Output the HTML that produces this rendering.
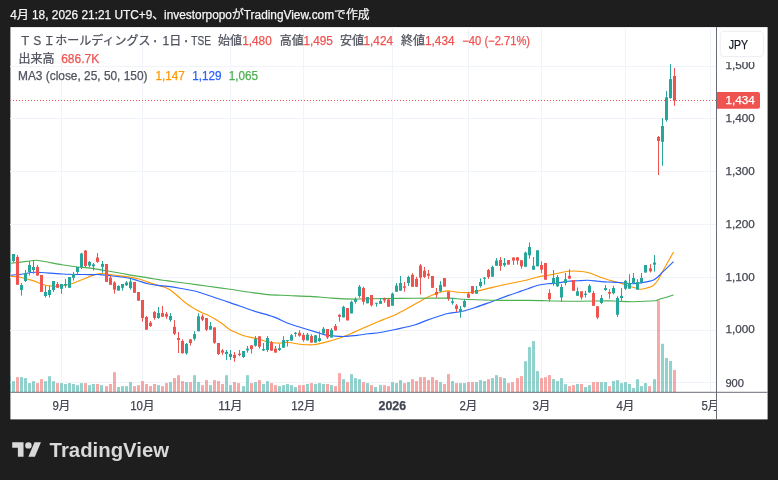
<!DOCTYPE html>
<html lang="ja"><head><meta charset="utf-8"><title>TradingView</title>
<style>
html,body{margin:0;padding:0;background:#1e1e1e;}
body{width:778px;height:480px;overflow:hidden;}
svg{display:block;will-change:transform;}
text{font-family:"Liberation Sans","Noto Sans CJK JP",sans-serif;stroke-width:0.25px;}
</style></head><body>
<svg width="778" height="480" viewBox="0 0 778 480">
<rect x="0" y="0" width="778" height="480" fill="#1e1e1e"/>
<rect x="10.4" y="27.1" width="757.2" height="392.3" fill="#ffffff"/>
<clipPath id="plot"><rect x="10.4" y="27.1" width="706.1" height="365.2"/></clipPath>

<g stroke="#f0f3fa" stroke-width="1" shape-rendering="crispEdges">
<line x1="61.5" y1="27.1" x2="61.5" y2="392.3"/>
<line x1="142.5" y1="27.1" x2="142.5" y2="392.3"/>
<line x1="230.5" y1="27.1" x2="230.5" y2="392.3"/>
<line x1="303.5" y1="27.1" x2="303.5" y2="392.3"/>
<line x1="392.5" y1="27.1" x2="392.5" y2="392.3"/>
<line x1="468.5" y1="27.1" x2="468.5" y2="392.3"/>
<line x1="541.5" y1="27.1" x2="541.5" y2="392.3"/>
<line x1="625.5" y1="27.1" x2="625.5" y2="392.3"/>
<line x1="710.5" y1="27.1" x2="710.5" y2="392.3"/>
<line x1="10.4" y1="66.1" x2="716.5" y2="66.1"/>
<line x1="10.4" y1="118.9" x2="716.5" y2="118.9"/>
<line x1="10.4" y1="171.7" x2="716.5" y2="171.7"/>
<line x1="10.4" y1="224.4" x2="716.5" y2="224.4"/>
<line x1="10.4" y1="277.2" x2="716.5" y2="277.2"/>
<line x1="10.4" y1="330.0" x2="716.5" y2="330.0"/>
<line x1="10.4" y1="382.8" x2="716.5" y2="382.8"/>
</g>
<g clip-path="url(#plot)">
<rect x="8.0" y="376.1" width="3" height="16.2" fill="rgba(38,166,154,0.5)"/>
<rect x="12.0" y="381.2" width="3" height="11.1" fill="rgba(38,166,154,0.5)"/>
<rect x="16.0" y="377.1" width="3" height="15.2" fill="rgba(239,83,80,0.5)"/>
<rect x="20.0" y="377.1" width="3" height="15.2" fill="rgba(38,166,154,0.5)"/>
<rect x="24.0" y="378.1" width="3" height="14.2" fill="rgba(38,166,154,0.5)"/>
<rect x="28.0" y="383.1" width="3" height="9.2" fill="rgba(38,166,154,0.5)"/>
<rect x="32.0" y="381.2" width="3" height="11.1" fill="rgba(38,166,154,0.5)"/>
<rect x="36.0" y="383.1" width="3" height="9.2" fill="rgba(239,83,80,0.5)"/>
<rect x="40.0" y="379.2" width="3" height="13.1" fill="rgba(239,83,80,0.5)"/>
<rect x="44.0" y="381.2" width="3" height="11.1" fill="rgba(38,166,154,0.5)"/>
<rect x="48.0" y="376.2" width="3" height="16.1" fill="rgba(38,166,154,0.5)"/>
<rect x="52.0" y="381.2" width="3" height="11.1" fill="rgba(38,166,154,0.5)"/>
<rect x="56.0" y="383.1" width="3" height="9.2" fill="rgba(239,83,80,0.5)"/>
<rect x="60.0" y="383.1" width="3" height="9.2" fill="rgba(38,166,154,0.5)"/>
<rect x="64.0" y="384.0" width="3" height="8.3" fill="rgba(38,166,154,0.5)"/>
<rect x="68.0" y="383.1" width="3" height="9.2" fill="rgba(38,166,154,0.5)"/>
<rect x="72.0" y="384.0" width="3" height="8.3" fill="rgba(38,166,154,0.5)"/>
<rect x="76.0" y="385.1" width="3" height="7.2" fill="rgba(38,166,154,0.5)"/>
<rect x="80.0" y="383.1" width="3" height="9.2" fill="rgba(38,166,154,0.5)"/>
<rect x="84.0" y="383.1" width="3" height="9.2" fill="rgba(239,83,80,0.5)"/>
<rect x="88.0" y="385.1" width="3" height="7.2" fill="rgba(38,166,154,0.5)"/>
<rect x="92.0" y="384.0" width="3" height="8.3" fill="rgba(38,166,154,0.5)"/>
<rect x="96.0" y="384.0" width="3" height="8.3" fill="rgba(239,83,80,0.5)"/>
<rect x="100.0" y="385.1" width="3" height="7.2" fill="rgba(38,166,154,0.5)"/>
<rect x="105.0" y="386.1" width="3" height="6.2" fill="rgba(239,83,80,0.5)"/>
<rect x="109.0" y="384.0" width="3" height="8.3" fill="rgba(239,83,80,0.5)"/>
<rect x="113.0" y="372.2" width="3" height="20.1" fill="rgba(239,83,80,0.5)"/>
<rect x="117.0" y="387.0" width="3" height="5.3" fill="rgba(38,166,154,0.5)"/>
<rect x="121.0" y="386.1" width="3" height="6.2" fill="rgba(38,166,154,0.5)"/>
<rect x="125.0" y="386.1" width="3" height="6.2" fill="rgba(38,166,154,0.5)"/>
<rect x="129.0" y="382.1" width="3" height="10.2" fill="rgba(38,166,154,0.5)"/>
<rect x="133.0" y="386.1" width="3" height="6.2" fill="rgba(239,83,80,0.5)"/>
<rect x="137.0" y="385.1" width="3" height="7.2" fill="rgba(239,83,80,0.5)"/>
<rect x="141.0" y="381.1" width="3" height="11.2" fill="rgba(239,83,80,0.5)"/>
<rect x="145.0" y="384.0" width="3" height="8.3" fill="rgba(239,83,80,0.5)"/>
<rect x="149.0" y="386.1" width="3" height="6.2" fill="rgba(239,83,80,0.5)"/>
<rect x="153.0" y="384.0" width="3" height="8.3" fill="rgba(239,83,80,0.5)"/>
<rect x="157.0" y="385.1" width="3" height="7.2" fill="rgba(38,166,154,0.5)"/>
<rect x="161.0" y="386.1" width="3" height="6.2" fill="rgba(239,83,80,0.5)"/>
<rect x="165.0" y="383.1" width="3" height="9.2" fill="rgba(239,83,80,0.5)"/>
<rect x="169.0" y="382.1" width="3" height="10.2" fill="rgba(38,166,154,0.5)"/>
<rect x="173.0" y="378.1" width="3" height="14.2" fill="rgba(239,83,80,0.5)"/>
<rect x="177.0" y="375.2" width="3" height="17.1" fill="rgba(239,83,80,0.5)"/>
<rect x="181.0" y="381.1" width="3" height="11.2" fill="rgba(239,83,80,0.5)"/>
<rect x="185.0" y="382.1" width="3" height="10.2" fill="rgba(38,166,154,0.5)"/>
<rect x="189.0" y="382.1" width="3" height="10.2" fill="rgba(239,83,80,0.5)"/>
<rect x="193.0" y="375.2" width="3" height="17.1" fill="rgba(38,166,154,0.5)"/>
<rect x="197.0" y="382.1" width="3" height="10.2" fill="rgba(38,166,154,0.5)"/>
<rect x="201.0" y="385.1" width="3" height="7.2" fill="rgba(239,83,80,0.5)"/>
<rect x="205.0" y="380.1" width="3" height="12.2" fill="rgba(239,83,80,0.5)"/>
<rect x="209.0" y="385.1" width="3" height="7.2" fill="rgba(38,166,154,0.5)"/>
<rect x="213.0" y="380.1" width="3" height="12.2" fill="rgba(239,83,80,0.5)"/>
<rect x="217.0" y="381.1" width="3" height="11.2" fill="rgba(239,83,80,0.5)"/>
<rect x="221.0" y="384.0" width="3" height="8.3" fill="rgba(239,83,80,0.5)"/>
<rect x="225.0" y="375.2" width="3" height="17.1" fill="rgba(38,166,154,0.5)"/>
<rect x="229.0" y="385.1" width="3" height="7.2" fill="rgba(38,166,154,0.5)"/>
<rect x="233.0" y="382.1" width="3" height="10.2" fill="rgba(239,83,80,0.5)"/>
<rect x="237.0" y="383.1" width="3" height="9.2" fill="rgba(239,83,80,0.5)"/>
<rect x="242.0" y="386.1" width="3" height="6.2" fill="rgba(38,166,154,0.5)"/>
<rect x="246.0" y="375.2" width="3" height="17.1" fill="rgba(38,166,154,0.5)"/>
<rect x="250.0" y="383.1" width="3" height="9.2" fill="rgba(239,83,80,0.5)"/>
<rect x="254.0" y="382.1" width="3" height="10.2" fill="rgba(38,166,154,0.5)"/>
<rect x="258.0" y="380.1" width="3" height="12.2" fill="rgba(239,83,80,0.5)"/>
<rect x="262.0" y="384.0" width="3" height="8.3" fill="rgba(38,166,154,0.5)"/>
<rect x="266.0" y="381.1" width="3" height="11.2" fill="rgba(38,166,154,0.5)"/>
<rect x="270.0" y="383.1" width="3" height="9.2" fill="rgba(239,83,80,0.5)"/>
<rect x="274.0" y="385.1" width="3" height="7.2" fill="rgba(239,83,80,0.5)"/>
<rect x="278.0" y="386.1" width="3" height="6.2" fill="rgba(38,166,154,0.5)"/>
<rect x="282.0" y="385.1" width="3" height="7.2" fill="rgba(38,166,154,0.5)"/>
<rect x="286.0" y="384.0" width="3" height="8.3" fill="rgba(38,166,154,0.5)"/>
<rect x="290.0" y="385.1" width="3" height="7.2" fill="rgba(38,166,154,0.5)"/>
<rect x="294.0" y="387.0" width="3" height="5.3" fill="rgba(38,166,154,0.5)"/>
<rect x="298.0" y="385.1" width="3" height="7.2" fill="rgba(239,83,80,0.5)"/>
<rect x="302.0" y="385.1" width="3" height="7.2" fill="rgba(239,83,80,0.5)"/>
<rect x="306.0" y="384.0" width="3" height="8.3" fill="rgba(38,166,154,0.5)"/>
<rect x="310.0" y="383.1" width="3" height="9.2" fill="rgba(239,83,80,0.5)"/>
<rect x="314.0" y="384.0" width="3" height="8.3" fill="rgba(38,166,154,0.5)"/>
<rect x="318.0" y="383.1" width="3" height="9.2" fill="rgba(38,166,154,0.5)"/>
<rect x="322.0" y="384.0" width="3" height="8.3" fill="rgba(38,166,154,0.5)"/>
<rect x="326.0" y="384.0" width="3" height="8.3" fill="rgba(239,83,80,0.5)"/>
<rect x="330.0" y="385.1" width="3" height="7.2" fill="rgba(38,166,154,0.5)"/>
<rect x="334.0" y="386.1" width="3" height="6.2" fill="rgba(239,83,80,0.5)"/>
<rect x="338.0" y="373.1" width="3" height="19.2" fill="rgba(239,83,80,0.5)"/>
<rect x="342.0" y="379.2" width="3" height="13.1" fill="rgba(38,166,154,0.5)"/>
<rect x="346.0" y="382.1" width="3" height="10.2" fill="rgba(239,83,80,0.5)"/>
<rect x="350.0" y="374.1" width="3" height="18.2" fill="rgba(38,166,154,0.5)"/>
<rect x="354.0" y="378.1" width="3" height="14.2" fill="rgba(38,166,154,0.5)"/>
<rect x="358.0" y="379.2" width="3" height="13.1" fill="rgba(38,166,154,0.5)"/>
<rect x="362.0" y="382.1" width="3" height="10.2" fill="rgba(239,83,80,0.5)"/>
<rect x="366.0" y="383.1" width="3" height="9.2" fill="rgba(38,166,154,0.5)"/>
<rect x="370.0" y="385.1" width="3" height="7.2" fill="rgba(239,83,80,0.5)"/>
<rect x="374.0" y="387.0" width="3" height="5.3" fill="rgba(38,166,154,0.5)"/>
<rect x="379.0" y="385.1" width="3" height="7.2" fill="rgba(38,166,154,0.5)"/>
<rect x="383.0" y="385.1" width="3" height="7.2" fill="rgba(239,83,80,0.5)"/>
<rect x="387.0" y="386.1" width="3" height="6.2" fill="rgba(239,83,80,0.5)"/>
<rect x="391.0" y="382.1" width="3" height="10.2" fill="rgba(38,166,154,0.5)"/>
<rect x="395.0" y="383.1" width="3" height="9.2" fill="rgba(38,166,154,0.5)"/>
<rect x="399.0" y="380.1" width="3" height="12.2" fill="rgba(38,166,154,0.5)"/>
<rect x="403.0" y="383.1" width="3" height="9.2" fill="rgba(239,83,80,0.5)"/>
<rect x="407.0" y="382.1" width="3" height="10.2" fill="rgba(38,166,154,0.5)"/>
<rect x="411.0" y="379.2" width="3" height="13.1" fill="rgba(239,83,80,0.5)"/>
<rect x="415.0" y="381.1" width="3" height="11.2" fill="rgba(239,83,80,0.5)"/>
<rect x="419.0" y="377.1" width="3" height="15.2" fill="rgba(239,83,80,0.5)"/>
<rect x="423.0" y="377.1" width="3" height="15.2" fill="rgba(239,83,80,0.5)"/>
<rect x="427.0" y="380.1" width="3" height="12.2" fill="rgba(239,83,80,0.5)"/>
<rect x="431.0" y="377.1" width="3" height="15.2" fill="rgba(239,83,80,0.5)"/>
<rect x="435.0" y="380.1" width="3" height="12.2" fill="rgba(239,83,80,0.5)"/>
<rect x="439.0" y="382.1" width="3" height="10.2" fill="rgba(38,166,154,0.5)"/>
<rect x="443.0" y="384.0" width="3" height="8.3" fill="rgba(239,83,80,0.5)"/>
<rect x="447.0" y="374.1" width="3" height="18.2" fill="rgba(239,83,80,0.5)"/>
<rect x="451.0" y="381.1" width="3" height="11.2" fill="rgba(38,166,154,0.5)"/>
<rect x="455.0" y="383.1" width="3" height="9.2" fill="rgba(239,83,80,0.5)"/>
<rect x="459.0" y="383.1" width="3" height="9.2" fill="rgba(38,166,154,0.5)"/>
<rect x="463.0" y="383.1" width="3" height="9.2" fill="rgba(38,166,154,0.5)"/>
<rect x="467.0" y="382.1" width="3" height="10.2" fill="rgba(239,83,80,0.5)"/>
<rect x="471.0" y="382.1" width="3" height="10.2" fill="rgba(239,83,80,0.5)"/>
<rect x="475.0" y="382.1" width="3" height="10.2" fill="rgba(38,166,154,0.5)"/>
<rect x="479.0" y="380.1" width="3" height="12.2" fill="rgba(38,166,154,0.5)"/>
<rect x="483.0" y="381.1" width="3" height="11.2" fill="rgba(38,166,154,0.5)"/>
<rect x="487.0" y="379.2" width="3" height="13.1" fill="rgba(239,83,80,0.5)"/>
<rect x="491.0" y="378.1" width="3" height="14.2" fill="rgba(38,166,154,0.5)"/>
<rect x="495.0" y="375.2" width="3" height="17.1" fill="rgba(38,166,154,0.5)"/>
<rect x="499.0" y="377.1" width="3" height="15.2" fill="rgba(239,83,80,0.5)"/>
<rect x="503.0" y="378.1" width="3" height="14.2" fill="rgba(38,166,154,0.5)"/>
<rect x="507.0" y="383.1" width="3" height="9.2" fill="rgba(239,83,80,0.5)"/>
<rect x="511.0" y="382.2" width="3" height="10.1" fill="rgba(239,83,80,0.5)"/>
<rect x="516.0" y="378.1" width="3" height="14.2" fill="rgba(239,83,80,0.5)"/>
<rect x="520.0" y="376.1" width="3" height="16.2" fill="rgba(239,83,80,0.5)"/>
<rect x="524.0" y="361.2" width="3" height="31.1" fill="rgba(38,166,154,0.5)"/>
<rect x="528.0" y="347.1" width="3" height="45.2" fill="rgba(38,166,154,0.5)"/>
<rect x="532.0" y="341.1" width="3" height="51.2" fill="rgba(38,166,154,0.5)"/>
<rect x="536.0" y="371.1" width="3" height="21.2" fill="rgba(38,166,154,0.5)"/>
<rect x="540.0" y="378.1" width="3" height="14.2" fill="rgba(239,83,80,0.5)"/>
<rect x="544.0" y="377.2" width="3" height="15.1" fill="rgba(239,83,80,0.5)"/>
<rect x="548.0" y="375.1" width="3" height="17.2" fill="rgba(239,83,80,0.5)"/>
<rect x="552.0" y="379.0" width="3" height="13.3" fill="rgba(38,166,154,0.5)"/>
<rect x="556.0" y="381.1" width="3" height="11.2" fill="rgba(38,166,154,0.5)"/>
<rect x="560.0" y="378.1" width="3" height="14.2" fill="rgba(38,166,154,0.5)"/>
<rect x="564.0" y="384.2" width="3" height="8.1" fill="rgba(38,166,154,0.5)"/>
<rect x="568.0" y="386.1" width="3" height="6.2" fill="rgba(239,83,80,0.5)"/>
<rect x="572.0" y="385.1" width="3" height="7.2" fill="rgba(239,83,80,0.5)"/>
<rect x="576.0" y="384.0" width="3" height="8.3" fill="rgba(38,166,154,0.5)"/>
<rect x="580.0" y="384.0" width="3" height="8.3" fill="rgba(239,83,80,0.5)"/>
<rect x="584.0" y="387.0" width="3" height="5.3" fill="rgba(38,166,154,0.5)"/>
<rect x="588.0" y="385.1" width="3" height="7.2" fill="rgba(38,166,154,0.5)"/>
<rect x="592.0" y="382.1" width="3" height="10.2" fill="rgba(239,83,80,0.5)"/>
<rect x="596.0" y="382.1" width="3" height="10.2" fill="rgba(239,83,80,0.5)"/>
<rect x="600.0" y="382.1" width="3" height="10.2" fill="rgba(38,166,154,0.5)"/>
<rect x="604.0" y="382.1" width="3" height="10.2" fill="rgba(38,166,154,0.5)"/>
<rect x="608.0" y="386.1" width="3" height="6.2" fill="rgba(239,83,80,0.5)"/>
<rect x="612.0" y="381.1" width="3" height="11.2" fill="rgba(38,166,154,0.5)"/>
<rect x="616.0" y="380.1" width="3" height="12.2" fill="rgba(38,166,154,0.5)"/>
<rect x="620.0" y="383.1" width="3" height="9.2" fill="rgba(38,166,154,0.5)"/>
<rect x="624.0" y="382.1" width="3" height="10.2" fill="rgba(38,166,154,0.5)"/>
<rect x="628.0" y="384.0" width="3" height="8.3" fill="rgba(38,166,154,0.5)"/>
<rect x="632.0" y="388.0" width="3" height="4.3" fill="rgba(38,166,154,0.5)"/>
<rect x="636.0" y="379.2" width="3" height="13.1" fill="rgba(38,166,154,0.5)"/>
<rect x="640.0" y="386.1" width="3" height="6.2" fill="rgba(38,166,154,0.5)"/>
<rect x="644.0" y="383.1" width="3" height="9.2" fill="rgba(38,166,154,0.5)"/>
<rect x="648.0" y="386.1" width="3" height="6.2" fill="rgba(239,83,80,0.5)"/>
<rect x="653.0" y="379.2" width="3" height="13.1" fill="rgba(38,166,154,0.5)"/>
<rect x="657.0" y="300.3" width="3" height="92.0" fill="rgba(239,83,80,0.5)"/>
<rect x="661.0" y="343.8" width="3" height="48.5" fill="rgba(38,166,154,0.5)"/>
<rect x="665.0" y="358.0" width="3" height="34.3" fill="rgba(38,166,154,0.5)"/>
<rect x="669.0" y="361.0" width="3" height="31.3" fill="rgba(38,166,154,0.5)"/>
<rect x="673.0" y="370.0" width="3" height="22.3" fill="rgba(239,83,80,0.5)"/>
<path d="M10.5,276.2 C12.2,276.4 16.8,276.5 20.5,277.2 C24.2,278.0 28.8,279.3 33.0,280.6 C37.2,281.9 41.3,284.3 45.5,285.2 C49.7,286.2 53.8,286.5 58.0,286.2 C62.2,286.0 67.2,284.8 70.5,284.0 C73.8,283.2 75.1,282.4 78.0,281.2 C80.9,280.1 85.1,278.4 88.0,277.2 C90.9,276.1 93.2,275.0 95.5,274.4 C97.8,273.8 98.8,273.4 101.8,273.5 C104.7,273.6 108.6,274.4 113.0,275.0 C117.4,275.6 123.8,276.3 128.0,276.9 C132.2,277.5 134.7,277.8 138.0,278.7 C141.3,279.6 144.7,281.0 148.0,282.1 C151.3,283.2 155.2,284.5 158.0,285.4 C160.8,286.2 162.5,286.3 164.7,287.2 C166.9,288.1 168.8,289.0 171.0,290.5 C173.2,292.0 175.7,294.4 178.0,296.3 C180.3,298.2 181.9,300.1 184.7,302.2 C187.5,304.3 192.0,307.1 194.7,308.8 C197.4,310.5 198.8,311.1 201.0,312.2 C203.2,313.3 205.7,314.1 208.0,315.2 C210.3,316.3 212.6,317.5 215.0,319.0 C217.4,320.5 220.1,322.2 222.6,324.0 C225.1,325.8 227.6,328.2 230.0,329.7 C232.4,331.2 234.7,332.0 237.0,333.0 C239.3,334.0 241.6,335.0 244.0,335.8 C246.4,336.6 249.2,337.1 251.7,337.6 C254.2,338.1 256.6,338.4 259.0,339.0 C261.4,339.6 263.6,340.8 266.0,341.4 C268.4,342.0 271.1,342.5 273.6,342.8 C276.1,343.1 278.6,343.1 281.0,343.0 C283.4,342.9 284.4,342.2 288.0,342.5 C291.6,342.8 298.5,344.1 302.6,344.5 C306.7,344.9 309.2,345.1 312.8,344.8 C316.4,344.5 319.6,343.7 324.0,342.6 C328.4,341.5 334.1,339.9 339.0,338.2 C343.9,336.5 348.8,334.4 353.6,332.4 C358.4,330.4 363.2,328.1 368.0,326.0 C372.8,323.9 377.8,321.9 382.6,319.9 C387.4,317.9 392.1,316.3 397.0,314.0 C401.9,311.7 406.9,308.7 411.7,306.0 C416.5,303.3 422.4,299.9 426.0,298.0 C429.6,296.1 431.1,295.6 433.6,294.6 C436.1,293.6 438.6,292.6 441.0,292.0 C443.4,291.4 445.2,290.8 448.0,290.8 C450.8,290.9 454.7,292.0 458.0,292.3 C461.3,292.6 464.8,292.8 468.0,292.6 C471.2,292.4 473.1,291.9 477.0,291.1 C480.9,290.3 486.9,288.7 491.7,287.6 C496.5,286.5 501.1,285.4 506.0,284.3 C510.9,283.2 517.3,282.1 521.0,281.3 C524.7,280.6 525.2,280.5 528.0,279.8 C530.8,279.1 534.7,277.8 538.0,277.0 C541.3,276.2 544.7,275.9 548.0,275.3 C551.3,274.7 554.7,274.0 558.0,273.3 C561.3,272.6 564.7,271.7 568.0,271.3 C571.3,270.9 574.7,271.0 578.0,271.2 C581.3,271.4 584.7,271.6 588.0,272.5 C591.3,273.4 595.2,275.2 598.0,276.3 C600.8,277.4 603.0,278.1 605.0,278.8 C607.0,279.5 607.5,279.6 610.0,280.3 C612.5,281.0 616.7,282.0 620.0,283.0 C623.3,284.0 626.7,285.3 630.0,286.3 C633.3,287.3 637.2,288.9 640.0,289.2 C642.8,289.5 644.5,288.6 646.7,288.0 C648.9,287.4 651.1,287.1 653.0,285.8 C654.9,284.5 656.3,282.5 658.0,280.0 C659.7,277.5 660.4,275.5 663.0,270.8 C665.6,266.1 671.8,255.1 673.5,252.0" fill="none" stroke="#ff9800" stroke-width="1.15" stroke-linejoin="round"/>
<path d="M10.5,275.2 C12.6,275.0 18.8,274.5 23.0,274.0 C27.2,273.5 29.0,272.2 35.5,272.2 C42.0,272.2 53.2,273.6 62.0,274.0 C70.8,274.4 81.7,274.5 88.0,274.6 C94.3,274.7 95.8,274.4 100.0,274.6 C104.2,274.8 108.3,275.4 113.0,276.0 C117.7,276.6 123.8,277.2 128.0,278.0 C132.2,278.8 134.7,279.7 138.0,280.7 C141.3,281.7 144.7,283.0 148.0,283.8 C151.3,284.6 154.7,285.0 158.0,285.4 C161.3,285.8 164.2,285.9 168.0,286.4 C171.8,286.9 176.6,287.7 181.0,288.5 C185.4,289.3 190.2,289.9 194.7,291.0 C199.2,292.1 202.1,293.3 208.0,295.2 C213.9,297.1 222.7,300.1 230.0,302.6 C237.3,305.1 244.4,307.9 251.7,310.3 C259.0,312.7 267.6,314.7 273.6,316.9 C279.7,319.1 283.2,321.4 288.0,323.3 C292.8,325.2 297.8,326.5 302.6,328.0 C307.4,329.5 313.4,331.3 317.0,332.4 C320.6,333.5 321.6,334.0 324.0,334.6 C326.4,335.2 329.2,335.5 331.7,335.8 C334.2,336.1 336.6,336.3 339.0,336.4 C341.4,336.5 343.0,336.6 346.0,336.4 C349.0,336.2 353.3,335.8 357.0,335.4 C360.7,335.0 364.2,334.3 368.0,333.8 C371.8,333.3 375.5,333.2 380.0,332.5 C384.5,331.8 389.2,330.8 395.0,329.5 C400.8,328.2 409.4,326.5 414.6,325.0 C419.8,323.5 421.6,322.2 426.0,320.6 C430.4,319.0 437.3,316.7 441.0,315.5 C444.7,314.3 444.4,314.2 448.0,313.5 C451.6,312.8 457.8,312.3 462.6,311.2 C467.4,310.1 472.1,308.5 477.0,306.9 C481.9,305.3 486.9,303.4 491.7,301.7 C496.5,299.9 501.1,298.2 506.0,296.4 C510.9,294.6 517.3,292.4 521.0,291.1 C524.7,289.8 525.2,289.7 528.0,288.7 C530.8,287.7 534.7,286.1 538.0,285.3 C541.3,284.5 544.7,284.1 548.0,283.7 C551.3,283.3 554.7,283.4 558.0,283.0 C561.3,282.6 564.7,281.7 568.0,281.3 C571.3,280.9 574.7,281.0 578.0,280.8 C581.3,280.6 584.7,280.2 588.0,280.3 C591.3,280.4 594.7,280.9 598.0,281.2 C601.3,281.5 604.3,281.8 608.0,282.0 C611.7,282.2 615.8,282.2 620.0,282.5 C624.2,282.8 629.2,283.7 633.0,283.7 C636.8,283.7 639.7,283.1 643.0,282.5 C646.3,281.9 650.5,281.3 653.0,280.3 C655.5,279.3 656.3,278.1 658.0,276.7 C659.7,275.3 660.4,274.2 663.0,271.7 C665.6,269.2 671.8,263.4 673.5,261.7" fill="none" stroke="#2962ff" stroke-width="1.15" stroke-linejoin="round"/>
<path d="M10.5,263.2 C13.8,262.8 25.7,261.5 30.0,261.0 C34.3,260.5 34.3,260.2 36.5,260.3 C38.7,260.4 38.8,260.6 43.0,261.3 C47.2,262.0 56.2,263.8 62.0,264.8 C67.8,265.7 73.7,266.5 78.0,267.0 C82.3,267.5 83.0,267.2 88.0,267.9 C93.0,268.6 101.3,269.9 108.0,271.0 C114.7,272.1 121.3,273.5 128.0,274.6 C134.7,275.8 141.3,276.8 148.0,277.9 C154.7,278.9 161.3,280.0 168.0,280.9 C174.7,281.8 181.3,282.6 188.0,283.5 C194.7,284.4 201.3,285.4 208.0,286.3 C214.7,287.2 221.3,288.1 228.0,289.0 C234.7,289.9 241.3,291.1 248.0,292.0 C254.7,292.9 261.3,294.0 268.0,294.6 C274.7,295.2 281.0,295.2 288.0,295.5 C295.0,295.8 302.7,296.0 310.0,296.4 C317.3,296.8 324.7,297.7 332.0,298.1 C339.3,298.6 347.6,299.0 353.6,299.1 C359.6,299.2 360.3,298.9 368.0,298.8 C375.7,298.7 386.7,298.5 400.0,298.4 C413.3,298.3 437.6,298.0 448.0,298.1 C458.4,298.2 455.3,298.9 462.6,299.3 C469.9,299.7 480.8,300.1 491.7,300.3 C502.6,300.5 515.3,300.2 528.0,300.4 C540.7,300.5 554.7,301.1 568.0,301.2 C581.3,301.3 599.9,300.8 608.0,300.8 C616.1,300.8 612.5,301.1 616.7,301.2 C620.9,301.3 626.6,301.8 633.0,301.7 C639.4,301.6 650.8,301.1 655.0,300.8 C659.2,300.5 654.9,300.7 658.0,299.7 C661.1,298.7 670.9,295.8 673.5,295.0" fill="none" stroke="#4caf50" stroke-width="1.15" stroke-linejoin="round"/>
<rect x="9.0" y="259.0" width="1" height="13.5" fill="#26a69a"/>
<rect x="8.0" y="259.0" width="3" height="13.5" fill="#26a69a"/>
<rect x="13.0" y="254.0" width="1" height="8.5" fill="#26a69a"/>
<rect x="12.0" y="254.0" width="3" height="7.0" fill="#26a69a"/>
<rect x="17.0" y="255.0" width="1" height="29.8" fill="#ef5350"/>
<rect x="16.0" y="256.9" width="3" height="27.9" fill="#ef5350"/>
<rect x="21.0" y="283.0" width="1" height="12.6" fill="#26a69a"/>
<rect x="20.0" y="285.0" width="3" height="5.0" fill="#26a69a"/>
<rect x="25.0" y="270.0" width="1" height="12.0" fill="#26a69a"/>
<rect x="24.0" y="273.0" width="3" height="8.0" fill="#26a69a"/>
<rect x="29.0" y="261.0" width="1" height="14.6" fill="#26a69a"/>
<rect x="28.0" y="265.0" width="3" height="7.0" fill="#26a69a"/>
<rect x="33.0" y="260.0" width="1" height="13.8" fill="#26a69a"/>
<rect x="32.0" y="267.0" width="3" height="3.0" fill="#26a69a"/>
<rect x="37.0" y="265.0" width="1" height="10.6" fill="#ef5350"/>
<rect x="36.0" y="266.9" width="3" height="8.7" fill="#ef5350"/>
<rect x="41.0" y="275.0" width="1" height="16.9" fill="#ef5350"/>
<rect x="40.0" y="275.0" width="3" height="16.9" fill="#ef5350"/>
<rect x="45.0" y="285.6" width="1" height="11.9" fill="#26a69a"/>
<rect x="44.0" y="292.0" width="3" height="4.0" fill="#26a69a"/>
<rect x="49.0" y="285.6" width="1" height="11.9" fill="#26a69a"/>
<rect x="48.0" y="290.0" width="3" height="5.0" fill="#26a69a"/>
<rect x="53.0" y="281.0" width="1" height="11.0" fill="#26a69a"/>
<rect x="52.0" y="281.0" width="3" height="9.0" fill="#26a69a"/>
<rect x="57.0" y="282.0" width="1" height="5.8" fill="#ef5350"/>
<rect x="56.0" y="284.0" width="3" height="3.8" fill="#ef5350"/>
<rect x="61.0" y="284.0" width="1" height="9.8" fill="#26a69a"/>
<rect x="60.0" y="284.0" width="3" height="4.8" fill="#26a69a"/>
<rect x="65.0" y="279.0" width="1" height="8.8" fill="#26a69a"/>
<rect x="64.0" y="284.0" width="3" height="1.6" fill="#26a69a"/>
<rect x="69.0" y="277.0" width="1" height="10.8" fill="#26a69a"/>
<rect x="68.0" y="277.0" width="3" height="10.8" fill="#26a69a"/>
<rect x="73.0" y="272.0" width="1" height="8.6" fill="#26a69a"/>
<rect x="72.0" y="274.0" width="3" height="3.8" fill="#26a69a"/>
<rect x="77.0" y="267.0" width="1" height="7.0" fill="#26a69a"/>
<rect x="76.0" y="267.0" width="3" height="5.0" fill="#26a69a"/>
<rect x="81.0" y="252.8" width="1" height="16.2" fill="#26a69a"/>
<rect x="80.0" y="253.5" width="3" height="13.5" fill="#26a69a"/>
<rect x="85.0" y="250.0" width="1" height="17.5" fill="#ef5350"/>
<rect x="84.0" y="250.6" width="3" height="15.4" fill="#ef5350"/>
<rect x="89.0" y="261.0" width="1" height="6.5" fill="#26a69a"/>
<rect x="88.0" y="261.9" width="3" height="3.7" fill="#26a69a"/>
<rect x="93.0" y="263.0" width="1" height="7.6" fill="#26a69a"/>
<rect x="92.0" y="264.4" width="3" height="1.9" fill="#26a69a"/>
<rect x="97.0" y="253.0" width="1" height="9.8" fill="#ef5350"/>
<rect x="96.0" y="257.5" width="3" height="4.4" fill="#ef5350"/>
<rect x="102.0" y="261.0" width="1" height="11.8" fill="#26a69a"/>
<rect x="101.0" y="264.0" width="3" height="2.9" fill="#26a69a"/>
<rect x="106.0" y="264.0" width="1" height="17.9" fill="#ef5350"/>
<rect x="105.0" y="264.0" width="3" height="17.9" fill="#ef5350"/>
<rect x="110.0" y="276.0" width="1" height="8.8" fill="#ef5350"/>
<rect x="109.0" y="277.8" width="3" height="7.0" fill="#ef5350"/>
<rect x="114.0" y="281.2" width="1" height="12.5" fill="#ef5350"/>
<rect x="113.0" y="282.5" width="3" height="7.2" fill="#ef5350"/>
<rect x="118.0" y="285.2" width="1" height="5.4" fill="#26a69a"/>
<rect x="117.0" y="286.0" width="3" height="4.6" fill="#26a69a"/>
<rect x="122.0" y="284.0" width="1" height="6.6" fill="#26a69a"/>
<rect x="121.0" y="284.0" width="3" height="3.8" fill="#26a69a"/>
<rect x="126.0" y="281.2" width="1" height="4.8" fill="#26a69a"/>
<rect x="125.0" y="282.5" width="3" height="2.8" fill="#26a69a"/>
<rect x="130.0" y="278.5" width="1" height="11.2" fill="#26a69a"/>
<rect x="129.0" y="281.6" width="3" height="6.4" fill="#26a69a"/>
<rect x="134.0" y="282.0" width="1" height="10.8" fill="#ef5350"/>
<rect x="133.0" y="282.0" width="3" height="10.8" fill="#ef5350"/>
<rect x="138.0" y="292.0" width="1" height="8.7" fill="#ef5350"/>
<rect x="137.0" y="292.0" width="3" height="8.7" fill="#ef5350"/>
<rect x="142.0" y="300.0" width="1" height="21.7" fill="#ef5350"/>
<rect x="141.0" y="300.0" width="3" height="18.0" fill="#ef5350"/>
<rect x="146.0" y="316.0" width="1" height="13.7" fill="#ef5350"/>
<rect x="145.0" y="317.0" width="3" height="12.7" fill="#ef5350"/>
<rect x="150.0" y="321.0" width="1" height="6.0" fill="#ef5350"/>
<rect x="149.0" y="322.7" width="3" height="3.3" fill="#ef5350"/>
<rect x="154.0" y="311.0" width="1" height="8.7" fill="#ef5350"/>
<rect x="153.0" y="312.0" width="3" height="6.0" fill="#ef5350"/>
<rect x="158.0" y="307.0" width="1" height="11.8" fill="#26a69a"/>
<rect x="157.0" y="313.0" width="3" height="5.0" fill="#26a69a"/>
<rect x="162.0" y="306.0" width="1" height="11.0" fill="#ef5350"/>
<rect x="161.0" y="313.0" width="3" height="3.7" fill="#ef5350"/>
<rect x="166.0" y="312.0" width="1" height="6.8" fill="#ef5350"/>
<rect x="165.0" y="313.8" width="3" height="2.9" fill="#ef5350"/>
<rect x="170.0" y="313.0" width="1" height="8.7" fill="#26a69a"/>
<rect x="169.0" y="316.0" width="3" height="4.0" fill="#26a69a"/>
<rect x="174.0" y="320.0" width="1" height="15.0" fill="#ef5350"/>
<rect x="173.0" y="326.8" width="3" height="7.0" fill="#ef5350"/>
<rect x="178.0" y="332.0" width="1" height="21.0" fill="#ef5350"/>
<rect x="177.0" y="338.0" width="3" height="2.0" fill="#ef5350"/>
<rect x="182.0" y="339.3" width="1" height="14.0" fill="#ef5350"/>
<rect x="181.0" y="341.0" width="3" height="12.3" fill="#ef5350"/>
<rect x="186.0" y="343.0" width="1" height="11.7" fill="#26a69a"/>
<rect x="185.0" y="344.0" width="3" height="9.3" fill="#26a69a"/>
<rect x="190.0" y="339.3" width="1" height="6.2" fill="#ef5350"/>
<rect x="189.0" y="339.3" width="3" height="3.7" fill="#ef5350"/>
<rect x="194.0" y="331.3" width="1" height="9.2" fill="#26a69a"/>
<rect x="193.0" y="334.0" width="3" height="4.8" fill="#26a69a"/>
<rect x="198.0" y="313.3" width="1" height="18.0" fill="#26a69a"/>
<rect x="197.0" y="316.3" width="3" height="15.0" fill="#26a69a"/>
<rect x="202.0" y="314.3" width="1" height="6.7" fill="#ef5350"/>
<rect x="201.0" y="316.3" width="3" height="3.4" fill="#ef5350"/>
<rect x="206.0" y="318.0" width="1" height="13.0" fill="#ef5350"/>
<rect x="205.0" y="318.0" width="3" height="11.7" fill="#ef5350"/>
<rect x="210.0" y="322.0" width="1" height="7.7" fill="#26a69a"/>
<rect x="209.0" y="325.9" width="3" height="3.8" fill="#26a69a"/>
<rect x="214.0" y="327.4" width="1" height="16.4" fill="#ef5350"/>
<rect x="213.0" y="327.4" width="3" height="15.4" fill="#ef5350"/>
<rect x="218.0" y="343.0" width="1" height="12.0" fill="#ef5350"/>
<rect x="217.0" y="343.0" width="3" height="11.0" fill="#ef5350"/>
<rect x="222.0" y="349.0" width="1" height="5.8" fill="#ef5350"/>
<rect x="221.0" y="350.4" width="3" height="2.2" fill="#ef5350"/>
<rect x="226.0" y="350.0" width="1" height="9.9" fill="#26a69a"/>
<rect x="225.0" y="352.0" width="3" height="2.0" fill="#26a69a"/>
<rect x="230.0" y="350.0" width="1" height="9.9" fill="#26a69a"/>
<rect x="229.0" y="354.0" width="3" height="3.0" fill="#26a69a"/>
<rect x="234.0" y="352.0" width="1" height="9.8" fill="#ef5350"/>
<rect x="233.0" y="354.8" width="3" height="3.2" fill="#ef5350"/>
<rect x="239.0" y="350.0" width="1" height="6.2" fill="#ef5350"/>
<rect x="238.0" y="353.6" width="3" height="1.4" fill="#ef5350"/>
<rect x="243.0" y="351.0" width="1" height="7.0" fill="#26a69a"/>
<rect x="242.0" y="351.0" width="3" height="6.0" fill="#26a69a"/>
<rect x="247.0" y="346.0" width="1" height="6.6" fill="#26a69a"/>
<rect x="246.0" y="348.6" width="3" height="1.8" fill="#26a69a"/>
<rect x="251.0" y="345.3" width="1" height="8.3" fill="#ef5350"/>
<rect x="250.0" y="345.3" width="3" height="3.7" fill="#ef5350"/>
<rect x="255.0" y="336.0" width="1" height="10.7" fill="#26a69a"/>
<rect x="254.0" y="338.7" width="3" height="7.0" fill="#26a69a"/>
<rect x="259.0" y="336.3" width="1" height="12.3" fill="#ef5350"/>
<rect x="258.0" y="336.3" width="3" height="10.4" fill="#ef5350"/>
<rect x="263.0" y="343.0" width="1" height="8.0" fill="#26a69a"/>
<rect x="262.0" y="349.0" width="3" height="1.4" fill="#26a69a"/>
<rect x="267.0" y="336.0" width="1" height="15.9" fill="#26a69a"/>
<rect x="266.0" y="338.0" width="3" height="12.0" fill="#26a69a"/>
<rect x="271.0" y="341.0" width="1" height="9.7" fill="#ef5350"/>
<rect x="270.0" y="342.4" width="3" height="8.3" fill="#ef5350"/>
<rect x="275.0" y="346.0" width="1" height="6.6" fill="#ef5350"/>
<rect x="274.0" y="348.6" width="3" height="4.0" fill="#ef5350"/>
<rect x="279.0" y="344.2" width="1" height="6.8" fill="#26a69a"/>
<rect x="278.0" y="348.2" width="3" height="1.8" fill="#26a69a"/>
<rect x="283.0" y="336.2" width="1" height="11.5" fill="#26a69a"/>
<rect x="282.0" y="340.1" width="3" height="7.6" fill="#26a69a"/>
<rect x="287.0" y="340.0" width="1" height="6.6" fill="#26a69a"/>
<rect x="286.0" y="340.0" width="3" height="1.0" fill="#26a69a"/>
<rect x="291.0" y="334.1" width="1" height="6.5" fill="#26a69a"/>
<rect x="290.0" y="335.2" width="3" height="5.4" fill="#26a69a"/>
<rect x="295.0" y="332.0" width="1" height="4.7" fill="#26a69a"/>
<rect x="294.0" y="332.8" width="3" height="1.1" fill="#26a69a"/>
<rect x="299.0" y="330.2" width="1" height="6.5" fill="#ef5350"/>
<rect x="298.0" y="332.8" width="3" height="2.9" fill="#ef5350"/>
<rect x="303.0" y="333.0" width="1" height="8.7" fill="#ef5350"/>
<rect x="302.0" y="334.9" width="3" height="5.2" fill="#ef5350"/>
<rect x="307.0" y="333.0" width="1" height="7.4" fill="#26a69a"/>
<rect x="306.0" y="334.6" width="3" height="5.8" fill="#26a69a"/>
<rect x="311.0" y="334.3" width="1" height="8.3" fill="#ef5350"/>
<rect x="310.0" y="336.0" width="3" height="6.6" fill="#ef5350"/>
<rect x="315.0" y="335.3" width="1" height="7.3" fill="#26a69a"/>
<rect x="314.0" y="335.3" width="3" height="7.3" fill="#26a69a"/>
<rect x="319.0" y="331.4" width="1" height="10.6" fill="#26a69a"/>
<rect x="318.0" y="338.2" width="3" height="2.8" fill="#26a69a"/>
<rect x="323.0" y="327.0" width="1" height="7.6" fill="#26a69a"/>
<rect x="322.0" y="328.7" width="3" height="4.7" fill="#26a69a"/>
<rect x="327.0" y="329.0" width="1" height="10.0" fill="#ef5350"/>
<rect x="326.0" y="329.0" width="3" height="8.5" fill="#ef5350"/>
<rect x="331.0" y="328.0" width="1" height="9.5" fill="#26a69a"/>
<rect x="330.0" y="329.9" width="3" height="7.6" fill="#26a69a"/>
<rect x="335.0" y="324.0" width="1" height="6.5" fill="#ef5350"/>
<rect x="334.0" y="326.0" width="3" height="4.5" fill="#ef5350"/>
<rect x="339.0" y="313.9" width="1" height="7.8" fill="#ef5350"/>
<rect x="338.0" y="314.9" width="3" height="1.9" fill="#ef5350"/>
<rect x="343.0" y="305.8" width="1" height="11.6" fill="#26a69a"/>
<rect x="342.0" y="306.9" width="3" height="10.5" fill="#26a69a"/>
<rect x="347.0" y="308.0" width="1" height="12.4" fill="#ef5350"/>
<rect x="346.0" y="308.0" width="3" height="12.4" fill="#ef5350"/>
<rect x="351.0" y="300.7" width="1" height="12.7" fill="#26a69a"/>
<rect x="350.0" y="301.8" width="3" height="11.6" fill="#26a69a"/>
<rect x="355.0" y="297.4" width="1" height="6.3" fill="#26a69a"/>
<rect x="354.0" y="299.3" width="3" height="2.5" fill="#26a69a"/>
<rect x="359.0" y="285.0" width="1" height="12.8" fill="#26a69a"/>
<rect x="358.0" y="286.7" width="3" height="9.3" fill="#26a69a"/>
<rect x="363.0" y="286.7" width="1" height="18.0" fill="#ef5350"/>
<rect x="362.0" y="288.0" width="3" height="13.8" fill="#ef5350"/>
<rect x="367.0" y="297.0" width="1" height="6.3" fill="#26a69a"/>
<rect x="366.0" y="297.0" width="3" height="6.3" fill="#26a69a"/>
<rect x="371.0" y="295.0" width="1" height="11.7" fill="#ef5350"/>
<rect x="370.0" y="295.0" width="3" height="10.3" fill="#ef5350"/>
<rect x="376.0" y="302.8" width="1" height="3.9" fill="#26a69a"/>
<rect x="375.0" y="302.8" width="3" height="1.0" fill="#26a69a"/>
<rect x="380.0" y="298.0" width="1" height="5.8" fill="#26a69a"/>
<rect x="379.0" y="300.9" width="3" height="2.9" fill="#26a69a"/>
<rect x="384.0" y="297.6" width="1" height="5.2" fill="#ef5350"/>
<rect x="383.0" y="298.4" width="3" height="2.1" fill="#ef5350"/>
<rect x="388.0" y="298.4" width="1" height="8.3" fill="#ef5350"/>
<rect x="387.0" y="299.5" width="3" height="7.2" fill="#ef5350"/>
<rect x="392.0" y="292.6" width="1" height="13.1" fill="#26a69a"/>
<rect x="391.0" y="293.6" width="3" height="12.1" fill="#26a69a"/>
<rect x="396.0" y="283.0" width="1" height="8.7" fill="#26a69a"/>
<rect x="395.0" y="285.6" width="3" height="6.1" fill="#26a69a"/>
<rect x="400.0" y="276.0" width="1" height="14.7" fill="#26a69a"/>
<rect x="399.0" y="283.0" width="3" height="7.7" fill="#26a69a"/>
<rect x="404.0" y="282.0" width="1" height="9.7" fill="#ef5350"/>
<rect x="403.0" y="286.3" width="3" height="1.5" fill="#ef5350"/>
<rect x="408.0" y="275.8" width="1" height="10.1" fill="#26a69a"/>
<rect x="407.0" y="276.9" width="3" height="6.1" fill="#26a69a"/>
<rect x="412.0" y="273.2" width="1" height="13.6" fill="#ef5350"/>
<rect x="411.0" y="274.7" width="3" height="12.1" fill="#ef5350"/>
<rect x="416.0" y="276.9" width="1" height="9.9" fill="#ef5350"/>
<rect x="415.0" y="278.8" width="3" height="8.0" fill="#ef5350"/>
<rect x="420.0" y="264.0" width="1" height="30.6" fill="#ef5350"/>
<rect x="419.0" y="265.5" width="3" height="12.1" fill="#ef5350"/>
<rect x="424.0" y="267.0" width="1" height="11.0" fill="#ef5350"/>
<rect x="423.0" y="270.7" width="3" height="6.2" fill="#ef5350"/>
<rect x="428.0" y="270.0" width="1" height="8.8" fill="#ef5350"/>
<rect x="427.0" y="273.7" width="3" height="2.1" fill="#ef5350"/>
<rect x="432.0" y="276.0" width="1" height="11.8" fill="#ef5350"/>
<rect x="431.0" y="276.0" width="3" height="11.8" fill="#ef5350"/>
<rect x="436.0" y="288.0" width="1" height="9.6" fill="#ef5350"/>
<rect x="435.0" y="292.0" width="3" height="2.6" fill="#ef5350"/>
<rect x="440.0" y="281.0" width="1" height="11.0" fill="#26a69a"/>
<rect x="439.0" y="284.9" width="3" height="6.5" fill="#26a69a"/>
<rect x="444.0" y="278.0" width="1" height="8.6" fill="#ef5350"/>
<rect x="443.0" y="278.0" width="3" height="8.6" fill="#ef5350"/>
<rect x="448.0" y="291.5" width="1" height="9.2" fill="#ef5350"/>
<rect x="447.0" y="291.5" width="3" height="7.3" fill="#ef5350"/>
<rect x="452.0" y="298.0" width="1" height="6.7" fill="#26a69a"/>
<rect x="451.0" y="301.3" width="3" height="1.5" fill="#26a69a"/>
<rect x="456.0" y="304.0" width="1" height="8.0" fill="#ef5350"/>
<rect x="455.0" y="305.4" width="3" height="3.6" fill="#ef5350"/>
<rect x="460.0" y="306.0" width="1" height="11.8" fill="#26a69a"/>
<rect x="459.0" y="309.0" width="3" height="3.0" fill="#26a69a"/>
<rect x="464.0" y="299.3" width="1" height="8.3" fill="#26a69a"/>
<rect x="463.0" y="301.0" width="3" height="5.9" fill="#26a69a"/>
<rect x="468.0" y="292.3" width="1" height="5.5" fill="#ef5350"/>
<rect x="467.0" y="293.7" width="3" height="4.1" fill="#ef5350"/>
<rect x="472.0" y="286.0" width="1" height="7.7" fill="#ef5350"/>
<rect x="471.0" y="286.0" width="3" height="7.7" fill="#ef5350"/>
<rect x="476.0" y="286.0" width="1" height="7.7" fill="#26a69a"/>
<rect x="475.0" y="290.0" width="3" height="3.7" fill="#26a69a"/>
<rect x="480.0" y="278.4" width="1" height="9.2" fill="#26a69a"/>
<rect x="479.0" y="282.0" width="3" height="4.0" fill="#26a69a"/>
<rect x="484.0" y="277.0" width="1" height="7.7" fill="#26a69a"/>
<rect x="483.0" y="277.7" width="3" height="1.0" fill="#26a69a"/>
<rect x="488.0" y="269.0" width="1" height="9.9" fill="#ef5350"/>
<rect x="487.0" y="270.0" width="3" height="7.0" fill="#ef5350"/>
<rect x="492.0" y="265.7" width="1" height="11.0" fill="#26a69a"/>
<rect x="491.0" y="266.8" width="3" height="9.9" fill="#26a69a"/>
<rect x="496.0" y="258.0" width="1" height="7.7" fill="#26a69a"/>
<rect x="495.0" y="260.6" width="3" height="5.1" fill="#26a69a"/>
<rect x="500.0" y="257.0" width="1" height="13.8" fill="#ef5350"/>
<rect x="499.0" y="260.0" width="3" height="6.0" fill="#ef5350"/>
<rect x="504.0" y="258.0" width="1" height="8.8" fill="#26a69a"/>
<rect x="503.0" y="263.0" width="3" height="2.3" fill="#26a69a"/>
<rect x="508.0" y="260.0" width="1" height="4.6" fill="#ef5350"/>
<rect x="507.0" y="260.0" width="3" height="4.6" fill="#ef5350"/>
<rect x="513.0" y="257.0" width="1" height="8.0" fill="#ef5350"/>
<rect x="512.0" y="257.6" width="3" height="3.0" fill="#ef5350"/>
<rect x="517.0" y="257.3" width="1" height="7.3" fill="#ef5350"/>
<rect x="516.0" y="257.3" width="3" height="3.3" fill="#ef5350"/>
<rect x="521.0" y="260.2" width="1" height="8.5" fill="#ef5350"/>
<rect x="520.0" y="260.2" width="3" height="6.1" fill="#ef5350"/>
<rect x="525.0" y="251.7" width="1" height="15.1" fill="#26a69a"/>
<rect x="524.0" y="252.6" width="3" height="14.2" fill="#26a69a"/>
<rect x="529.0" y="242.5" width="1" height="16.2" fill="#26a69a"/>
<rect x="528.0" y="247.0" width="3" height="8.3" fill="#26a69a"/>
<rect x="533.0" y="257.0" width="1" height="12.7" fill="#26a69a"/>
<rect x="532.0" y="265.8" width="3" height="3.9" fill="#26a69a"/>
<rect x="537.0" y="250.3" width="1" height="16.0" fill="#26a69a"/>
<rect x="536.0" y="250.3" width="3" height="16.0" fill="#26a69a"/>
<rect x="541.0" y="261.3" width="1" height="11.7" fill="#ef5350"/>
<rect x="540.0" y="265.0" width="3" height="4.7" fill="#ef5350"/>
<rect x="545.0" y="263.0" width="1" height="16.7" fill="#ef5350"/>
<rect x="544.0" y="263.0" width="3" height="16.7" fill="#ef5350"/>
<rect x="549.0" y="289.2" width="1" height="12.5" fill="#ef5350"/>
<rect x="548.0" y="293.0" width="3" height="6.2" fill="#ef5350"/>
<rect x="553.0" y="270.0" width="1" height="15.8" fill="#26a69a"/>
<rect x="552.0" y="278.0" width="3" height="5.7" fill="#26a69a"/>
<rect x="557.0" y="275.0" width="1" height="12.0" fill="#26a69a"/>
<rect x="556.0" y="277.0" width="3" height="9.3" fill="#26a69a"/>
<rect x="561.0" y="284.2" width="1" height="17.5" fill="#26a69a"/>
<rect x="560.0" y="287.0" width="3" height="10.5" fill="#26a69a"/>
<rect x="565.0" y="273.0" width="1" height="12.3" fill="#26a69a"/>
<rect x="564.0" y="279.2" width="3" height="3.8" fill="#26a69a"/>
<rect x="569.0" y="269.2" width="1" height="10.0" fill="#ef5350"/>
<rect x="568.0" y="275.8" width="3" height="2.9" fill="#ef5350"/>
<rect x="573.0" y="280.0" width="1" height="10.8" fill="#ef5350"/>
<rect x="572.0" y="280.0" width="3" height="10.8" fill="#ef5350"/>
<rect x="577.0" y="287.5" width="1" height="8.3" fill="#26a69a"/>
<rect x="576.0" y="291.3" width="3" height="4.5" fill="#26a69a"/>
<rect x="581.0" y="291.3" width="1" height="8.4" fill="#ef5350"/>
<rect x="580.0" y="291.3" width="3" height="6.2" fill="#ef5350"/>
<rect x="585.0" y="290.8" width="1" height="6.7" fill="#26a69a"/>
<rect x="584.0" y="293.7" width="3" height="1.3" fill="#26a69a"/>
<rect x="589.0" y="284.2" width="1" height="8.3" fill="#26a69a"/>
<rect x="588.0" y="285.8" width="3" height="6.7" fill="#26a69a"/>
<rect x="593.0" y="290.8" width="1" height="15.0" fill="#ef5350"/>
<rect x="592.0" y="293.0" width="3" height="12.8" fill="#ef5350"/>
<rect x="597.0" y="306.3" width="1" height="12.9" fill="#ef5350"/>
<rect x="596.0" y="306.3" width="3" height="11.2" fill="#ef5350"/>
<rect x="601.0" y="295.0" width="1" height="9.2" fill="#26a69a"/>
<rect x="600.0" y="298.0" width="3" height="5.0" fill="#26a69a"/>
<rect x="605.0" y="285.0" width="1" height="5.8" fill="#26a69a"/>
<rect x="604.0" y="288.0" width="3" height="2.0" fill="#26a69a"/>
<rect x="609.0" y="289.2" width="1" height="9.5" fill="#ef5350"/>
<rect x="608.0" y="292.0" width="3" height="1.7" fill="#ef5350"/>
<rect x="613.0" y="285.8" width="1" height="8.4" fill="#26a69a"/>
<rect x="612.0" y="288.0" width="3" height="5.3" fill="#26a69a"/>
<rect x="617.0" y="296.3" width="1" height="20.7" fill="#26a69a"/>
<rect x="616.0" y="298.0" width="3" height="16.7" fill="#26a69a"/>
<rect x="621.0" y="288.0" width="1" height="12.8" fill="#26a69a"/>
<rect x="620.0" y="295.8" width="3" height="2.2" fill="#26a69a"/>
<rect x="625.0" y="280.0" width="1" height="10.0" fill="#26a69a"/>
<rect x="624.0" y="280.8" width="3" height="7.9" fill="#26a69a"/>
<rect x="629.0" y="274.2" width="1" height="14.5" fill="#26a69a"/>
<rect x="628.0" y="283.0" width="3" height="5.7" fill="#26a69a"/>
<rect x="633.0" y="273.0" width="1" height="10.0" fill="#26a69a"/>
<rect x="632.0" y="278.0" width="3" height="5.0" fill="#26a69a"/>
<rect x="637.0" y="279.2" width="1" height="10.5" fill="#26a69a"/>
<rect x="636.0" y="282.0" width="3" height="7.7" fill="#26a69a"/>
<rect x="641.0" y="273.0" width="1" height="10.7" fill="#26a69a"/>
<rect x="640.0" y="278.0" width="3" height="4.5" fill="#26a69a"/>
<rect x="645.0" y="265.0" width="1" height="7.5" fill="#26a69a"/>
<rect x="644.0" y="265.0" width="3" height="7.5" fill="#26a69a"/>
<rect x="650.0" y="264.2" width="1" height="8.3" fill="#ef5350"/>
<rect x="649.0" y="268.3" width="3" height="3.0" fill="#ef5350"/>
<rect x="654.0" y="255.0" width="1" height="16.7" fill="#26a69a"/>
<rect x="653.0" y="262.5" width="3" height="2.2" fill="#26a69a"/>
<rect x="658.0" y="136.0" width="1" height="39.0" fill="#ef5350"/>
<rect x="657.0" y="137.0" width="3" height="4.0" fill="#ef5350"/>
<rect x="662.0" y="118.0" width="1" height="47.8" fill="#26a69a"/>
<rect x="661.0" y="126.0" width="3" height="15.8" fill="#26a69a"/>
<rect x="666.0" y="90.9" width="1" height="30.8" fill="#26a69a"/>
<rect x="665.0" y="97.3" width="3" height="22.6" fill="#26a69a"/>
<rect x="670.0" y="64.2" width="1" height="34.4" fill="#26a69a"/>
<rect x="669.0" y="79.1" width="3" height="19.0" fill="#26a69a"/>
<rect x="674.0" y="68.1" width="1" height="37.7" fill="#ef5350"/>
<rect x="673.0" y="76.0" width="3" height="24.4" fill="#ef5350"/>
<line x1="10" y1="100.5" x2="716.5" y2="100.5" stroke="#ef5350" stroke-width="1" stroke-dasharray="1 2"/>
</g>
<text x="725.4" y="69.4" font-size="11.6" fill="#434651" textLength="29.3" lengthAdjust="spacingAndGlyphs" stroke="#434651">1,500</text>
<text x="725.4" y="122.2" font-size="11.6" fill="#434651" textLength="29.3" lengthAdjust="spacingAndGlyphs" stroke="#434651">1,400</text>
<text x="725.4" y="175.0" font-size="11.6" fill="#434651" textLength="29.3" lengthAdjust="spacingAndGlyphs" stroke="#434651">1,300</text>
<text x="725.4" y="227.7" font-size="11.6" fill="#434651" textLength="29.3" lengthAdjust="spacingAndGlyphs" stroke="#434651">1,200</text>
<text x="725.4" y="280.5" font-size="11.6" fill="#434651" textLength="29.3" lengthAdjust="spacingAndGlyphs" stroke="#434651">1,100</text>
<text x="725.4" y="333.3" font-size="11.6" fill="#434651" textLength="29.3" lengthAdjust="spacingAndGlyphs" stroke="#434651">1,000</text>
<text x="725.4" y="387.4" font-size="11.6" fill="#434651" textLength="18.6" lengthAdjust="spacingAndGlyphs" stroke="#434651">900</text>
<rect x="717.0" y="28" width="50.0" height="34.0" fill="#fff"/>
<rect x="720.2" y="31.4" width="43.2" height="25.2" rx="4" fill="#fff" stroke="#ecedf1" stroke-width="1"/>
<text x="728.7" y="48.7" font-size="12" fill="#131722" textLength="19.3" lengthAdjust="spacingAndGlyphs" stroke="#131722">JPY</text>
<path d="M716.5,92 H758 a2,2 0 0 1 2,2 V106.75 a2,2 0 0 1 -2,2 H716.5 Z" fill="#ef5350"/>
<text x="725.4" y="103.8" font-size="11.8" fill="#fff" stroke="#fff" stroke-width="0.45" textLength="29.4" lengthAdjust="spacingAndGlyphs">1,434</text>
<g stroke="#6a6d78" stroke-width="1"><line x1="716.5" y1="27.1" x2="716.5" y2="419.4"/><line x1="10.4" y1="392.3" x2="767.6" y2="392.3"/></g>
<clipPath id="tax"><rect x="10.4" y="392.3" width="705.6" height="27.1"/></clipPath><g clip-path="url(#tax)" font-size="12" fill="#434651" stroke="#434651" text-anchor="middle">
<text x="61.3" y="410" textLength="17.8" lengthAdjust="spacingAndGlyphs">9月</text>
<text x="142.3" y="410" textLength="24.2" lengthAdjust="spacingAndGlyphs">10月</text>
<text x="230.3" y="410" textLength="24.2" lengthAdjust="spacingAndGlyphs">11月</text>
<text x="303.3" y="410" textLength="24.2" lengthAdjust="spacingAndGlyphs">12月</text>
<text x="392.3" y="410" font-weight="bold" textLength="27.6" lengthAdjust="spacingAndGlyphs">2026</text>
<text x="468.3" y="410" textLength="17.8" lengthAdjust="spacingAndGlyphs">2月</text>
<text x="541.3" y="410" textLength="17.8" lengthAdjust="spacingAndGlyphs">3月</text>
<text x="625.3" y="410" textLength="17.8" lengthAdjust="spacingAndGlyphs">4月</text>
<text x="710.3" y="410" textLength="17.8" lengthAdjust="spacingAndGlyphs">5月</text>
</g>
<text x="10.3" y="19.3" font-size="12" fill="#f5f5f5" stroke="#f5f5f5" stroke-width="0.3" textLength="359.3" lengthAdjust="spacingAndGlyphs">4月 18, 2026 21:21 UTC+9、investorpopoがTradingView.comで作成</text>
<g font-size="12">
<text x="19.3" y="45.3" fill="#50535e" stroke="#50535e">ＴＳＩホールディングス</text>
<text x="152.2" y="46" font-size="17" fill="#50535e" stroke="#50535e">·</text><text x="162.5" y="45.3" fill="#50535e" stroke="#50535e">1日</text><text x="183.3" y="46" font-size="17" fill="#50535e" stroke="#50535e">·</text><text x="191.3" y="45.3" fill="#50535e" textLength="19.6" lengthAdjust="spacingAndGlyphs" stroke="#50535e">TSE</text>
<text x="218" y="45.3" fill="#50535e" stroke="#50535e">始値</text><text x="242.2" y="45.3" fill="#ef5350" textLength="29.5" lengthAdjust="spacingAndGlyphs" stroke="#ef5350">1,480</text>
<text x="279.7" y="45.3" fill="#50535e" stroke="#50535e">高値</text><text x="303.4" y="45.3" fill="#ef5350" textLength="29.5" lengthAdjust="spacingAndGlyphs" stroke="#ef5350">1,495</text>
<text x="339.9" y="45.3" fill="#50535e" stroke="#50535e">安値</text><text x="363.5" y="45.3" fill="#ef5350" textLength="29.5" lengthAdjust="spacingAndGlyphs" stroke="#ef5350">1,424</text>
<text x="401" y="45.3" fill="#50535e" stroke="#50535e">終値</text><text x="425" y="45.3" fill="#ef5350" textLength="29.5" lengthAdjust="spacingAndGlyphs" stroke="#ef5350">1,434</text>
<text x="462.3" y="45.3" fill="#ef5350" textLength="67.8" lengthAdjust="spacingAndGlyphs" stroke="#ef5350">−40 (−2.71%)</text>
<text x="18.5" y="63.3" fill="#50535e" stroke="#50535e">出来高</text><text x="61.2" y="63.3" fill="#ef5350" stroke="#ef5350">686.7K</text>
<text x="18" y="80" fill="#50535e" textLength="129.5" lengthAdjust="spacingAndGlyphs" stroke="#50535e">MA3 (close, 25, 50, 150)</text><text x="155.5" y="80" textLength="29.3" lengthAdjust="spacingAndGlyphs" fill="#ff9800" stroke="#ff9800">1,147</text><text x="192.3" y="80" textLength="29.3" lengthAdjust="spacingAndGlyphs" fill="#2962ff" stroke="#2962ff">1,129</text><text x="228.8" y="80" textLength="29.3" lengthAdjust="spacingAndGlyphs" fill="#4caf50" stroke="#4caf50">1,065</text>
</g>
<g transform="translate(12.2,438.9) scale(0.81)" fill="#d9d9d9"><path d="M14 22H7V11H0V4h14v18zM28 22h-8l7.5-18h8L28 22z"/><circle cx="20" cy="8" r="4"/></g>
<text x="49.6" y="456.7" font-size="19.6" font-weight="bold" fill="#d9d9d9" stroke="none" textLength="119.5" lengthAdjust="spacingAndGlyphs">TradingView</text>
</svg></body></html>
